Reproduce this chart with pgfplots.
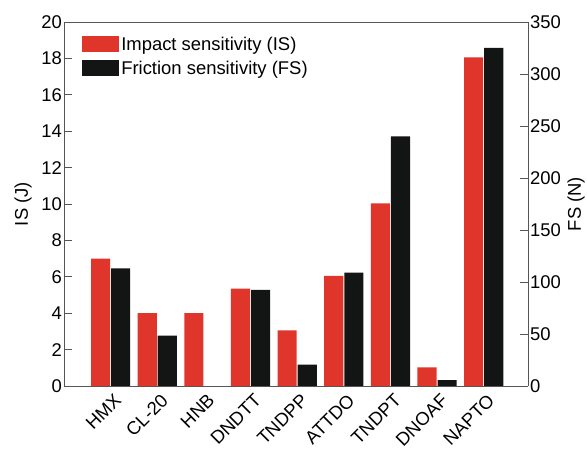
\documentclass[border=0pt]{standalone}
\usepackage{pgfplots}
\pgfplotsset{compat=1.18}
\usepackage{fontspec}
\setmainfont{Liberation Sans}
\definecolor{isred}{HTML}{E0352B}
\definecolor{fsblack}{HTML}{131515}
\definecolor{axgray}{HTML}{555555}
\begin{document}
\begin{tikzpicture}
\pgfplotsset{
  common/.style={
    scale only axis, width=464bp, height=364bp,
    at={(0,0)}, anchor=south west,
    xmin=-1, xmax=8.95,
    xtick={0,1,2,3,4,5,6,7,8},
    axis line style={axgray, line width=0.9pt},
    major tick style={axgray, line width=0.8pt},
    major tick length=8pt,
    tick align=inside,
    ybar, bar width=0.41,
    tick label style={font=\fontsize{18.5}{20}\selectfont},
    label style={font=\fontsize{18.5}{20}\selectfont},
    /pgf/number format/assume math mode=true,
  }
}
\path[use as bounding box] (-64bp,-63bp) rectangle (523bp,386bp);
\begin{axis}[common,
  ymin=0, ymax=20, ytick={0,2,...,20},
  axis y line*=left,
  xticklabels={HMX,CL-20,HNB,DNDTT,TNDPP,ATTDO,TNDPT,DNOAF,NAPTO},
  x tick style={draw=none},
  xticklabel style={rotate=45, anchor=north east, inner sep=1pt, xshift=4pt, yshift=0pt},
  yticklabel style={inner sep=2pt},
  ylabel={IS (J)},
  ylabel style={yshift=4pt},
  legend style={draw=none, fill=none, at={(0.039,0.965)}, anchor=north west,
    font=\fontsize{18.5}{20}\selectfont, row sep=5pt, inner sep=0pt,
    /tikz/every even column/.append style={column sep=3pt}},
  legend image code/.code={\fill[#1] (0bp,-8bp) rectangle (37bp,8bp);},
  legend cell align=left,
]
\addplot[fill=isred, draw=none, bar shift=-0.215] coordinates {
(0,7) (1,4) (2,4) (3,5.35) (4,3.05) (5,6.05) (6,10.03) (7,1.03) (8,18.05)};
\addlegendentry{Impact sensitivity (IS)}
\addlegendimage{fill=fsblack, draw=none}
\addlegendentry{Friction sensitivity (FS)}
\end{axis}
\begin{axis}[common,
  ymin=0, ymax=350, ytick={0,50,...,350},
  axis y line*=right, axis x line=none,
  xticklabels={},
  yticklabel style={inner sep=2pt},
  ylabel={FS (N)},
  ylabel style={yshift=-1pt},
]
\addplot[fill=fsblack, draw=none, bar shift=0.215] coordinates {
(0,113) (1,48.5) (3,92.5) (4,20.5) (5,109) (6,240) (7,5.7) (8,325)};
\end{axis}
\end{tikzpicture}
\end{document}
